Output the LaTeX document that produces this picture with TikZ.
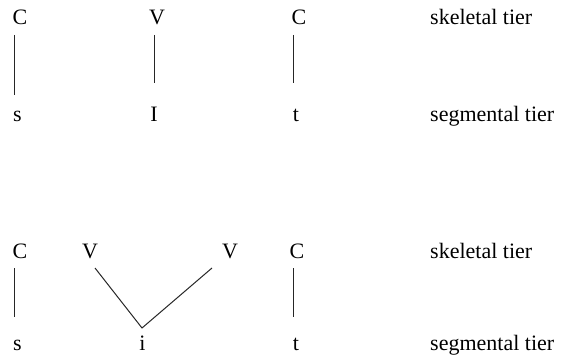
\documentclass[tikz,border=0pt]{standalone}
\usepackage{fontspec}
\setmainfont{Liberation Serif}
\begin{document}
\begin{tikzpicture}[x=1pt,y=-1pt,
  seg/.style={inner sep=0pt,anchor=base,font=\fontsize{22}{26}\selectfont},
  tier/.style={inner sep=0pt,anchor=base west,font=\fontsize{22}{26}\selectfont},
  assoc/.style={line width=1pt,draw=black!85}]
\useasboundingbox (0,0) rectangle (561,358);
% top representation
\node[seg] (c1) at (20,25) {C};
\node[seg] (v1) at (157,25) {V};
\node[seg] (c2) at (299,25) {C};
\node[seg] (s1) at (17.5,122) {s};
\node[seg] (I1) at (154,122) {I};
\node[seg] (t1) at (296,122) {t};
\node[tier] (sk1) at (430,25) {skeletal tier};
\node[tier] (sg1) at (430,122) {segmental tier};
\draw[assoc] ([shift={(-6,10)}]c1.base) -- ([shift={(-3.5,-27)}]s1.base);
\draw[assoc] ([shift={(-3,10)}]v1.base) -- ([shift={(0,-39)}]I1.base);
\draw[assoc] ([shift={(-6,10)}]c2.base) -- ([shift={(-3,-39)}]t1.base);
% bottom representation
\node[seg] (c3) at (20,258) {C};
\node[seg] (v2) at (90,258) {V};
\node[seg] (v3) at (230,258) {V};
\node[seg] (c4) at (297,258) {C};
\node[seg] (s2) at (17.5,350) {s};
\node[seg] (i2) at (142.5,350) {i};
\node[seg] (t2) at (296,350) {t};
\node[tier] (sk2) at (430,258) {skeletal tier};
\node[tier] (sg2) at (430,350) {segmental tier};
\draw[assoc] ([shift={(-6,10)}]c3.base) -- ([shift={(-3.5,-33)}]s2.base);
\draw[assoc] ([shift={(5,10)}]v2.base) -- ([shift={(-0.5,-22)}]i2.base) -- ([shift={(-18,10)}]v3.base);
\draw[assoc] ([shift={(-4,10)}]c4.base) -- ([shift={(-3,-33)}]t2.base);
\end{tikzpicture}
\end{document}
